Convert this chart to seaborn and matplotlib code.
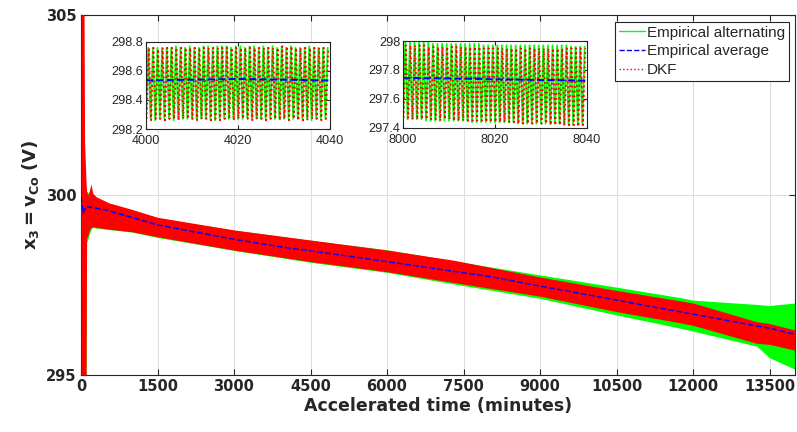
import numpy as np
import matplotlib
matplotlib.use('Agg')
import matplotlib.pyplot as plt
from matplotlib.lines import Line2D
import seaborn as sns

# main band envelopes (minutes, volts)
band_t = [0, 60, 70, 100, 110, 130, 160, 196, 230, 300, 550, 1000, 1500, 3000,
          4500, 6000, 7300, 9000, 10500, 11750, 12000, 13250, 13500, 14000]
dkf_hi = [305, 305, 301.5, 300.3, 300.1, 300.0, 300.1, 300.31, 300.05, 299.95, 299.78, 299.6, 299.38, 299.03,
          298.75, 298.47, 298.19, 297.72, 297.35, 297.06, 297.0, 296.48, 296.43, 296.25]
dkf_lo = [295, 295, 295, 295, 298.8, 298.85, 299.0, 299.1, 299.12, 299.1, 299.05, 298.98, 298.84, 298.47,
          298.15, 297.87, 297.57, 297.19, 296.76, 296.45, 296.38, 295.88, 295.85, 295.69]
emp_hi = [299.5, 299.5, 299.6, 300.1, 300.1, 300.1, 299.95, 300.0, 299.95, 299.9, 299.75, 299.58, 299.36, 299.02,
          298.74, 298.48, 298.17, 297.78, 297.44, 297.15, 297.08, 296.96, 296.93, 297.0]
emp_lo = [295, 295, 295, 295, 298.7, 298.75, 298.9, 299.05, 299.1, 299.08, 299.04, 298.97, 298.82, 298.46,
          298.13, 297.85, 297.53, 297.13, 296.67, 296.30, 296.22, 295.80, 295.48, 295.16]

avg_t = [0, 40, 100, 500, 1500, 3000, 4000, 4500, 6000, 7300, 8000, 9000, 10500, 12000, 13500, 14000]
avg_v = [299.95, 299.5, 299.68, 299.58, 299.17, 298.77, 298.54, 298.45, 298.15, 297.88, 297.74, 297.47,
         297.08, 296.69, 296.30, 296.13]

# inset 1: 4000-4040 min, one low/high pair per minute
in1_emp_lo = [298.27, 298.27, 298.26, 298.27, 298.27, 298.27, 298.26, 298.27, 298.27, 298.27,
              298.27, 298.27, 298.27, 298.27, 298.27, 298.26, 298.27, 298.27, 298.27, 298.27,
              298.27, 298.27, 298.28, 298.27, 298.27, 298.27, 298.27, 298.27, 298.27, 298.27,
              298.27, 298.27, 298.27, 298.27, 298.27, 298.27, 298.26, 298.27, 298.27, 298.27]
in1_emp_hi = [298.76, 298.76, 298.76, 298.76, 298.76, 298.76, 298.77, 298.76, 298.76, 298.77,
              298.76, 298.76, 298.77, 298.77, 298.76, 298.77, 298.77, 298.77, 298.76, 298.77,
              298.77, 298.76, 298.77, 298.77, 298.76, 298.77, 298.76, 298.77, 298.76, 298.77,
              298.76, 298.77, 298.76, 298.76, 298.76, 298.77, 298.76, 298.76, 298.76, 298.76]
in1_dkf_lo = [298.27, 298.26, 298.27, 298.27, 298.26, 298.27, 298.27, 298.26, 298.27, 298.27,
              298.27, 298.26, 298.27, 298.27, 298.26, 298.27, 298.26, 298.27, 298.27, 298.26,
              298.27, 298.27, 298.27, 298.26, 298.27, 298.27, 298.26, 298.27, 298.27, 298.26,
              298.27, 298.26, 298.27, 298.26, 298.26, 298.26, 298.27, 298.27, 298.26, 298.27]
in1_dkf_hi = [298.76, 298.76, 298.75, 298.76, 298.76, 298.76, 298.76, 298.76, 298.76, 298.76,
              298.76, 298.76, 298.76, 298.76, 298.76, 298.76, 298.76, 298.76, 298.76, 298.76,
              298.76, 298.76, 298.76, 298.76, 298.76, 298.76, 298.76, 298.76, 298.76, 298.77,
              298.77, 298.77, 298.76, 298.76, 298.76, 298.76, 298.76, 298.76, 298.76, 298.76]
in1_avg_t = [4000, 4010, 4020, 4030, 4040]
in1_avg_v = [298.535, 298.54, 298.545, 298.54, 298.535]

# inset 2: 8000-8040 min
in2_emp_lo = [297.46, 297.46, 297.46, 297.46, 297.46, 297.45, 297.45, 297.45, 297.45, 297.45,
              297.45, 297.45, 297.45, 297.45, 297.45, 297.44, 297.44, 297.44, 297.44, 297.44,
              297.44, 297.44, 297.44, 297.44, 297.44, 297.43, 297.43, 297.43, 297.43, 297.43,
              297.43, 297.43, 297.43, 297.43, 297.43, 297.42, 297.42, 297.42, 297.42, 297.42]
in2_emp_hi = [297.99, 297.99, 297.99, 297.99, 297.99, 297.99, 297.98, 297.98, 297.98, 297.98,
              297.98, 297.98, 297.98, 297.98, 297.98, 297.98, 297.98, 297.97, 297.97, 297.97,
              297.97, 297.97, 297.97, 297.97, 297.97, 297.97, 297.97, 297.97, 297.97, 297.97,
              297.97, 297.97, 297.97, 297.97, 297.97, 297.97, 297.96, 297.96, 297.96, 297.96]
in2_dkf_lo = [297.47, 297.47, 297.46, 297.46, 297.46, 297.46, 297.46, 297.46, 297.45, 297.46,
              297.46, 297.45, 297.45, 297.45, 297.45, 297.45, 297.45, 297.45, 297.44, 297.44,
              297.44, 297.44, 297.44, 297.44, 297.44, 297.43, 297.43, 297.43, 297.43, 297.43,
              297.43, 297.43, 297.42, 297.42, 297.42, 297.42, 297.42, 297.42, 297.41, 297.42]
in2_dkf_hi = [297.97, 297.97, 297.97, 297.97, 297.97, 297.96, 297.96, 297.96, 297.96, 297.96,
              297.96, 297.96, 297.96, 297.96, 297.96, 297.96, 297.96, 297.95, 297.95, 297.95,
              297.95, 297.95, 297.95, 297.95, 297.95, 297.95, 297.95, 297.95, 297.95, 297.95,
              297.95, 297.95, 297.95, 297.95, 297.95, 297.95, 297.95, 297.95, 297.95, 297.95]
in2_avg_t = [8000, 8010, 8020, 8030, 8040]
in2_avg_v = [297.746, 297.742, 297.736, 297.731, 297.727]

x_ticks = [0, 1500, 3000, 4500, 6000, 7500, 9000, 10500, 12000, 13500]
y_ticks = [295, 300, 305]
legend_labels = ['Empirical alternating', 'Empirical average', 'DKF']

GREEN = '#00ff00'
RED = '#ff0000'
BLUE = '#0000ff'
DARK = '#262626'
GRID = '#dedede'

sns.set_style('ticks')
plt.rcParams['font.family'] = ['DejaVu Sans']
plt.rcParams['mathtext.fontset'] = 'dejavusans'

fig = plt.figure(figsize=(7.97, 4.32), dpi=100)
ax = fig.add_axes([81 / 797, 1 - 375 / 432, 714 / 797, 360 / 432])

ax.fill_between(band_t, emp_lo, emp_hi, color=GREEN, linewidth=0, zorder=2)
ax.fill_between(band_t, dkf_lo, dkf_hi, color=RED, linewidth=0, zorder=3)
sns.lineplot(x=avg_t, y=avg_v, ax=ax, color=BLUE, linestyle='--', linewidth=1.1, zorder=4)

ax.set_xlim(0, 14000)
ax.set_ylim(295, 305)
ax.set_xticks(x_ticks)
ax.set_yticks(y_ticks)
ax.grid(True, color=GRID, linewidth=0.8, zorder=0)
ax.set_axisbelow(True)
for s in ax.spines.values():
    s.set_color(DARK)
    s.set_linewidth(0.8)
    s.set_visible(True)
ax.tick_params(direction='in', top=True, right=True, length=4, color=DARK,
               labelsize=10.5, labelcolor=DARK, pad=3)
for lab in ax.get_xticklabels() + ax.get_yticklabels():
    lab.set_fontweight('bold')
ax.set_xlabel('Accelerated time (minutes)', fontsize=12.5, fontweight='bold', color=DARK, labelpad=2)
ax.set_ylabel(r'$\mathbf{x_3 = v_{Co}\ (V)}$', fontsize=13, color=DARK, labelpad=4)

handles = [Line2D([], [], color=GREEN, linewidth=1),
           Line2D([], [], color=BLUE, linestyle='--', linewidth=1),
           Line2D([], [], color=RED, linestyle=':', linewidth=1)]
leg = ax.legend(handles, legend_labels, loc='upper right', bbox_to_anchor=(789 / 797, 1 - 22 / 432),
                bbox_transform=fig.transFigure, fancybox=False, edgecolor=DARK, framealpha=1,
                prop={'family': ['Liberation Sans', 'DejaVu Sans'], 'size': 11},
                handlelength=1.7, handletextpad=0.15, labelspacing=0.3,
                borderpad=0.25, borderaxespad=0)
leg.get_frame().set_linewidth(0.8)


def draw_inset(rect, t0, emp_lo_v, emp_hi_v, dkf_lo_v, dkf_hi_v, a_t, a_v, yt, ylabels):
    ins = fig.add_axes(rect)
    ts = np.arange(t0, t0 + 40, 0.5)
    emp = np.column_stack([emp_lo_v, emp_hi_v]).ravel()
    dkf = np.column_stack([dkf_lo_v, dkf_hi_v]).ravel()
    sns.lineplot(x=ts, y=emp, ax=ins, color=GREEN, linewidth=1.3, sort=False)
    sns.lineplot(x=ts + 0.12, y=dkf, ax=ins, color=RED, linestyle=':', linewidth=1.3, sort=False)
    sns.lineplot(x=a_t, y=a_v, ax=ins, color=BLUE, linestyle='--', linewidth=1.4)
    ins.set_xlim(t0, t0 + 40)
    ins.set_ylim(yt[0], yt[-1])
    ins.set_xticks([t0, t0 + 20, t0 + 40])
    ins.set_yticks(yt)
    ins.set_yticklabels(ylabels)
    ins.grid(True, color=GRID, linewidth=0.7)
    ins.set_axisbelow(True)
    for s in ins.spines.values():
        s.set_color(DARK)
        s.set_linewidth(0.8)
        s.set_visible(True)
    ins.tick_params(direction='in', top=True, right=True, length=3, color=DARK,
                    labelsize=9.2, labelcolor=DARK, pad=2)
    ins.tick_params(axis='x', pad=4)
    for lab in ins.get_xticklabels() + ins.get_yticklabels():
        lab.set_family(['Liberation Sans', 'DejaVu Sans'])
    return ins


draw_inset([146 / 797, 1 - 129 / 432, 184 / 797, 87 / 432], 4000,
           in1_emp_lo, in1_emp_hi, in1_dkf_lo, in1_dkf_hi, in1_avg_t, in1_avg_v,
           [298.2, 298.4, 298.6, 298.8], ['298.2', '298.4', '298.6', '298.8'])
draw_inset([403 / 797, 1 - 128 / 432, 184 / 797, 87 / 432], 8000,
           in2_emp_lo, in2_emp_hi, in2_dkf_lo, in2_dkf_hi, in2_avg_t, in2_avg_v,
           [297.4, 297.6, 297.8, 298.0], ['297.4', '297.6', '297.8', '298'])

fig.savefig('out.png', dpi=100)
